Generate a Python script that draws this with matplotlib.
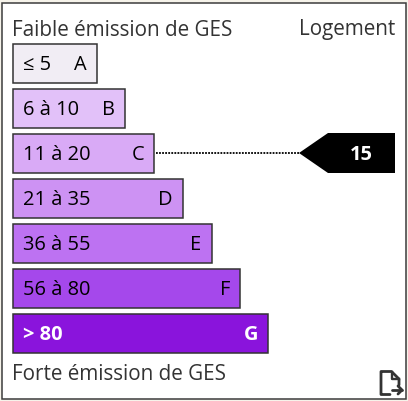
import matplotlib
matplotlib.use("Agg")
import matplotlib.pyplot as plt
from matplotlib.patches import Polygon, Rectangle, PathPatch
from matplotlib.path import Path

ranges = ["≤ 5", "6 à 10", "11 à 20", "21 à 35", "36 à 55", "56 à 80", "> 80"]
letters = ["A", "B", "C", "D", "E", "F", "G"]
widths = [84.8, 112.6, 141.8, 170.6, 199.3, 227.8, 255.8]
colors = ["#f1edf4", "#e2c1f9", "#d9aaf6", "#cd92f3", "#bd72f2", "#a548eb", "#8a14dc"]
text_colors = ["black"] * 6 + ["white"]
weights = ["medium"] * 6 + ["bold"]
value = 15
value_index = 2
title_top = "Faible émission de GES"
title_bottom = "Forte émission de GES"
title_right = "Logement"

plt.rcParams["font.family"] = ["Open Sans", "DejaVu Sans"]
W, H = 408, 401
fig = plt.figure(figsize=(W / 100, H / 100), dpi=100, facecolor="#f6f3ea")
ax = fig.add_axes([0, 0, 1, 1])
ax.set_xlim(0, W)
ax.set_ylim(H, 0)
ax.axis("off")

ax.add_patch(Rectangle((1.5, 2.5), 404, 396, fc="white", ec="#3c3c3c", lw=1.1, zorder=0))

ys = [63 + 45 * i for i in range(len(ranges))]
ax.barh(ys, widths, left=12.5, height=39, color=colors, edgecolor="#333333", linewidth=1.1, zorder=2)

for y, w, r, l, tc, fw in zip(ys, widths, ranges, letters, text_colors, weights):
    ax.text(23, y - 0.7, r, color=tc, fontsize=14.4, fontweight=fw, va="center_baseline", ha="left", zorder=3)
    ax.text(12.5 + w - 10.2, y - 0.7, l, color=tc, fontsize=14.4, fontweight=fw, va="center_baseline", ha="right", zorder=3)

ax.text(12, 27.5, title_top, fontsize=14.9, color="#333333", fontweight="medium", va="center_baseline", ha="left")
ax.text(395, 27.5, title_right, fontsize=14.9, color="#333333", fontweight="medium", va="center_baseline", ha="right")
ax.text(12, 372.5, title_bottom, fontsize=14.9, color="#333333", fontweight="medium", va="center_baseline", ha="left")

# value arrow
yv = ys[value_index]
ax.plot([156, 300], [yv, yv], color="black", lw=1.3, ls=(0, (1, 0.7)), zorder=1)
ax.add_patch(Polygon([(299, yv), (328, yv - 20), (395, yv - 20), (395, yv + 20), (328, yv + 20)],
                     closed=True, fc="black", ec="none", zorder=2))
ax.text(361.5, yv - 0.7, str(value), color="white", fontsize=14.4, fontweight="bold",
        va="center_baseline", ha="center", zorder=3)

# export icon
ax.add_patch(PathPatch(Path([(390, 394.5), (382.5, 394.5), (381, 394.5), (381, 393), (381, 373), (381, 371.5), (382.5, 371.5),
                             (391.5, 371.5), (399, 379), (399, 385)],
                            [Path.MOVETO] + [Path.LINETO] * 9),
                       fc="none", ec="#333333", lw=2.0, capstyle="round", joinstyle="round", zorder=3))
ax.plot([392, 392, 399], [372, 379, 379], color="#333333", lw=1.7, zorder=3)
ax.plot([392, 402], [390, 390], color="#333333", lw=2.0, zorder=3, solid_capstyle="round")
ax.plot([398, 402, 398], [386, 390, 394], color="#333333", lw=2.0, zorder=3,
        solid_capstyle="round", solid_joinstyle="round")

fig.savefig("out.png", dpi=100, facecolor=fig.get_facecolor())
